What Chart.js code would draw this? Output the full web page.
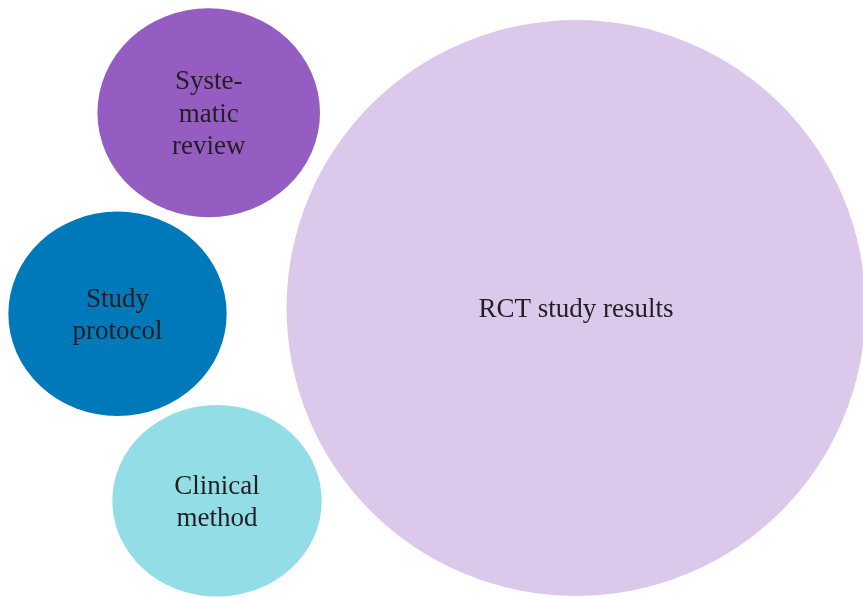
<!DOCTYPE html>
<html>
<head>
<meta charset="utf-8">
<script src="https://cdn.jsdelivr.net/npm/chart.js@4/dist/chart.umd.min.js"></script>
<style>
html,body{margin:0;padding:0;background:#fff;}
#wrap{width:863px;height:598px;position:relative;}
</style>
</head>
<body>
<div id="wrap"><canvas id="c"></canvas></div>
<script>
// Data
const categories = ["Systematic review", "Study protocol", "Clinical method", "RCT study results"];
const labelLines = [["Syste-", "matic", "review"], ["Study", "protocol"], ["Clinical", "method"], ["RCT study results"]];
const xValues = [208.7, 117.5, 217.0, 576.0];
const yValues = [112.7, 313.8, 500.8, 308.0];
const radii = [104.5, 102.2, 95.8, 288.0];
const widthRatios = [1.065, 1.068, 1.093, 1.005];
const colors = ["#955CC1", "#0079BA", "#93DDE6", "#DBC8EB"];

const datasets = categories.map((name, i) => ({
  label: name,
  data: [{ x: xValues[i], y: yValues[i], r: radii[i] }],
  backgroundColor: colors[i],
  borderWidth: 0,
  hoverBorderWidth: 0,
  clip: false,
  order: i === 3 ? 1 : 0
}));

const ellipsePlugin = {
  id: 'ellipse',
  beforeDatasetDraw(chart, args) {
    const el = chart.getDatasetMeta(args.index).data[0];
    const s = widthRatios[args.index];
    const ctx = chart.ctx;
    ctx.save();
    ctx.translate(el.x, el.y);
    ctx.scale(s, 1);
    ctx.translate(-el.x, -el.y);
  },
  afterDatasetDraw(chart) {
    chart.ctx.restore();
  }
};

const labelPlugin = {
  id: 'labels',
  afterDatasetsDraw(chart) {
    const ctx = chart.ctx;
    ctx.save();
    ctx.fillStyle = '#231F20';
    ctx.font = '27px "Liberation Serif", "Times New Roman", serif';
    ctx.textAlign = 'center';
    ctx.textBaseline = 'middle';
    const lh = 32.5;
    categories.forEach((c, i) => {
      const el = chart.getDatasetMeta(i).data[0];
      const lines = labelLines[i];
      const y0 = el.y + 2 - (lines.length - 1) * lh / 2;
      lines.forEach((t, k) => ctx.fillText(t, el.x, y0 + k * lh));
    });
    ctx.restore();
  }
};

new Chart(document.getElementById('c'), {
  type: 'bubble',
  data: { datasets },
  options: {
    responsive: true,
    maintainAspectRatio: false,
    animation: false,
    events: [],
    layout: { padding: 0, autoPadding: false },
    plugins: { legend: { display: false }, tooltip: { enabled: false } },
    scales: {
      x: { type: 'linear', min: 0, max: 863, display: false },
      y: { type: 'linear', min: 0, max: 598, reverse: true, display: false }
    }
  },
  plugins: [ellipsePlugin, labelPlugin]
});
</script>
</body>
</html>
